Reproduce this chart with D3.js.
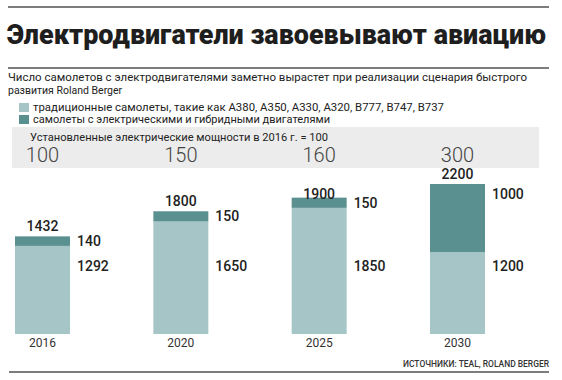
<!DOCTYPE html>
<html><head><meta charset="utf-8">
<script src="https://cdn.jsdelivr.net/npm/d3@7"></script>
<style>
html,body{margin:0;padding:0;background:#fff;}
svg{display:block;}
</style></head>
<body>
<script>
const years = ["2016", "2020", "2025", "2030"];
const traditional = [1292, 1650, 1850, 1200];
const electric = [140, 150, 150, 1000];
const totals = [1432, 1800, 1900, 2200];
const power = [100, 150, 160, 300];
const title = "Электродвигатели завоевывают авиацию";
const subtitle = ["Число самолетов с электродвигателями заметно вырастет при реализации сценария быстрого", "развития Roland Berger"];
const legendLabels = ["традиционные самолеты, такие как А380, А350, А330, А320, В777, В747, В737", "самолеты с электрическими и гибридными двигателями"];
const bandTitle = "Установленные электрические мощности в 2016 г. = 100";
const source = "ИСТОЧНИКИ: TEAL, ROLAND BERGER";

const W = 562, H = 380;
const cLight = "#a6c5c6", cDark = "#5a9190", cText = "#222";
const svg = d3.select("body").append("svg").attr("width", W).attr("height", H);

// rules
[7, 68].forEach(y => svg.append("line").attr("x1", 8).attr("x2", 549).attr("y1", y).attr("y2", y)
  .attr("stroke", "#7d7d7d").attr("stroke-width", 2));
svg.append("line").attr("x1", 9).attr("x2", 549).attr("y1", 372).attr("y2", 372)
  .attr("stroke", "#7d7d7d").attr("stroke-width", 2);

// title
svg.append("text").attr("x", 7).attr("y", 44).text(title)
  .attr("font-family", "Roboto, 'DejaVu Sans', sans-serif").attr("font-weight", 900)
  .attr("font-size", 27).attr("fill", "#1e1e1e")
  .attr("textLength", 539).attr("lengthAdjust", "spacingAndGlyphs");

// subtitle
const subFont = "Roboto, sans-serif";
const subSize = 10.5;
const subW = [519, null];
subtitle.forEach((s, i) => {
  const t = svg.append("text").attr("x", 8).attr("y", 81 + i * 12.5).text(s)
    .attr("font-family", subFont).attr("font-size", subSize).attr("fill", cText);
  if (subW[i]) t.attr("textLength", subW[i]).attr("lengthAdjust", "spacingAndGlyphs");
});

// legend
const legW = [411, 297];
[cLight, cDark].forEach((c, i) => {
  svg.append("rect").attr("x", 19).attr("y", 103 + i * 12).attr("width", 10).attr("height", 9).attr("fill", c);
  svg.append("text").attr("x", 33).attr("y", 110.5 + i * 12.3).text(legendLabels[i])
    .attr("font-family", subFont).attr("font-size", subSize).attr("fill", cText)
    .attr("textLength", legW[i]).attr("lengthAdjust", "spacingAndGlyphs");
});

// scales
const x = d3.scalePoint().domain(years).range([42.5, 457.5]);
const y = d3.scaleLinear().domain([0, 2200]).range([334, 184]);
const bw = 55;

// gray band with power index
svg.append("rect").attr("x", 12).attr("y", 127).attr("width", 527).attr("height", 41).attr("fill", "#ececec");
svg.append("text").attr("x", 30).attr("y", 141).text(bandTitle)
  .attr("font-family", subFont).attr("font-size", subSize).attr("fill", cText)
  .attr("textLength", 298).attr("lengthAdjust", "spacingAndGlyphs");
svg.selectAll("text.power").data(years).enter().append("text").attr("class", "power")
  .attr("x", d => x(d)).attr("y", 162).attr("text-anchor", "middle")
  .text((d, i) => power[i])
  .attr("font-family", "Roboto, sans-serif").attr("font-weight", 300).attr("font-size", 20).attr("fill", "#444");

// bars
const g = svg.append("g");
g.selectAll("rect.trad").data(years).enter().append("rect").attr("class", "trad")
  .attr("x", d => x(d) - bw / 2).attr("width", bw)
  .attr("y", (d, i) => y(traditional[i])).attr("height", (d, i) => y(0) - y(traditional[i]))
  .attr("fill", cLight);
g.selectAll("rect.elec").data(years).enter().append("rect").attr("class", "elec")
  .attr("x", d => x(d) - bw / 2).attr("width", bw)
  .attr("y", (d, i) => y(traditional[i] + electric[i])).attr("height", (d, i) => y(traditional[i]) - y(traditional[i] + electric[i]))
  .attr("fill", cDark);

const lblFont = "Roboto, sans-serif";
// totals
g.selectAll("text.total").data(years).enter().append("text").attr("class", "total")
  .attr("x", d => x(d)).attr("y", (d, i) => y(totals[i]) - 5).attr("text-anchor", "middle")
  .text((d, i) => totals[i])
  .attr("font-family", lblFont).attr("font-weight", 500).attr("font-size", 14).attr("fill", cText);
// electric labels
g.selectAll("text.elabel").data(years).enter().append("text").attr("class", "elabel")
  .attr("x", d => x(d) + bw / 2 + 7)
  .attr("y", (d, i) => {
    const top = y(traditional[i] + electric[i]), bot = y(traditional[i]);
    return Math.min((top + bot) / 2, top + 10);
  })
  .attr("dy", "0.35em")
  .text((d, i) => electric[i])
  .attr("font-family", lblFont).attr("font-weight", 500).attr("font-size", 14).attr("fill", cText);
// traditional labels
g.selectAll("text.tlabel").data(years).enter().append("text").attr("class", "tlabel")
  .attr("x", d => x(d) + bw / 2 + 7).attr("y", y(1000)).attr("dy", "0.35em")
  .text((d, i) => traditional[i])
  .attr("font-family", lblFont).attr("font-weight", 500).attr("font-size", 14).attr("fill", cText);

// x axis labels
g.selectAll("text.year").data(years).enter().append("text").attr("class", "year")
  .attr("x", d => x(d)).attr("y", 347).attr("text-anchor", "middle").text(d => d)
  .attr("font-family", lblFont).attr("font-size", 12).attr("fill", "#333");

// source
svg.append("text").attr("x", 549).attr("y", 367).attr("text-anchor", "end").text(source)
  .attr("font-family", "Roboto, sans-serif").attr("font-weight", 500).attr("font-size", 9).attr("fill", "#333")
  .attr("textLength", 146).attr("lengthAdjust", "spacingAndGlyphs");
</script>
</body></html>
